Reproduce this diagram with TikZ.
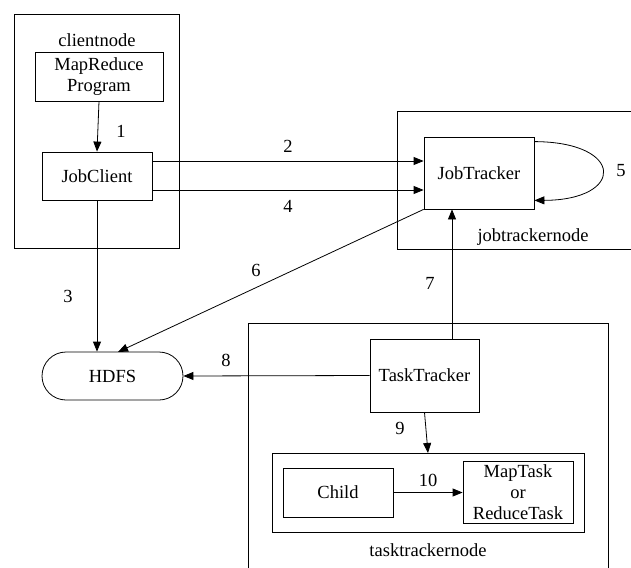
\documentclass[tikz,border=0pt]{standalone}
\usepackage{fontspec}
\setmainfont{Liberation Serif}
\usetikzlibrary{arrows.meta,calc}
\begin{document}
\begin{tikzpicture}[x=1pt,y=-1pt,
  font=\fontsize{18.5}{21}\selectfont,
  box/.style={draw,line width=0.8pt,inner sep=0pt,align=center},
  arr/.style={-{Triangle[length=10pt,width=8pt]},line width=0.8pt},
  lbl/.style={inner sep=0pt}]
\useasboundingbox (0,0) rectangle (631,567);
\clip (0,0) rectangle (631,567);

% host containers
\node[box,minimum width=165,minimum height=234] (clientnode) at (96.5,131) {};
\node[box,minimum width=263,minimum height=138] (jtnode) at (528.5,180) {};
\node[box,minimum width=360,minimum height=277] (ttnode) at (428,461.5) {};
\node[box,minimum width=312,minimum height=79] (childbox) at (428,492.5) {};

\node[lbl] (clientlbl) at (97,40) {clientnode};
\node[lbl] (jtlbl) at (533,237) {jobtrackernode};
\node[lbl] (ttlbl) at (428,550) {tasktrackernode};

% processes
\node[box,minimum width=128,minimum height=49] (program) at (99,76.5) {MapReduce\\Program};
\node[box,minimum width=110,minimum height=48] (JobClient) at (97,176) {JobClient};
\node[box,minimum width=110,minimum height=72] (JobTracker) at (479,173) {JobTracker};
\node[box,minimum width=109,minimum height=73] (TaskTracker) at (424.5,375.5) {TaskTracker};
\node[box,minimum width=110,minimum height=49] (Child) at (338,492.5) {Child};
\node[box,minimum width=110,minimum height=62] (Task) at (518,492) {MapTask\\or\\ReduceTask};
\node[box,minimum width=141,minimum height=48,rounded corners=24pt] (HDFS) at (112.5,376) {HDFS};

% connector end points
\coordinate (h6) at (118,352);
\coordinate (t7) at (452,339);
\coordinate (c9) at (428,453);

% connectors
\draw[arr] (program.south) -- (JobClient.north);
\draw[arr] (JobClient.east |- 0,161) -- (JobTracker.west |- 0,161);
\draw[arr] (JobClient.south) -- (JobClient.south |- HDFS.north);
\draw[arr] (JobClient.east |- 0,190) -- (JobTracker.west |- 0,190);
\draw[arr] ($(JobTracker.north east)+(0,5)$) .. controls (625,142) and (625,200) .. ($(JobTracker.south east)+(0,-9)$);
\draw[arr] (JobTracker.south west) -- (h6);
\draw[arr] (t7) -- (t7 |- JobTracker.south);
\draw[arr] (TaskTracker.west) -- (HDFS.east);
\draw[arr] (TaskTracker.south) -- (c9);
\draw[arr] (Child.east) -- (Child.east -| Task.west);

% step numbers
\node[lbl] (n1) at (121,131) {1};
\node[lbl] (n2) at (288,146) {2};
\node[lbl] (n3) at (68,296) {3};
\node[lbl] (n4) at (288,206) {4};
\node[lbl] (n5) at (621,171) {5};
\node[lbl] (n6) at (256,270) {6};
\node[lbl] (n7) at (430,283) {7};
\node[lbl] (n8) at (226,360) {8};
\node[lbl] (n9) at (400,428) {9};
\node[lbl] (n10) at (428,480) {10};
\end{tikzpicture}
\end{document}
